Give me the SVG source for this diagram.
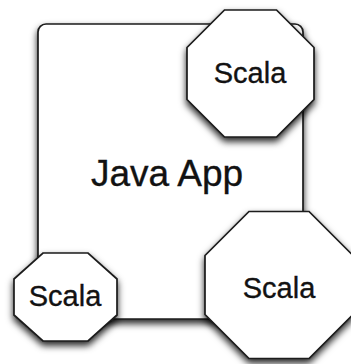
<svg xmlns="http://www.w3.org/2000/svg" width="351" height="364" viewBox="0 0 351 364">
  <defs>
    <filter id="shadow" x="-20%" y="-20%" width="140%" height="150%">
      <feDropShadow dx="0" dy="4" stdDeviation="3.5" flood-color="#000" flood-opacity="0.85"/>
    </filter>
  </defs>
  <style>
    .shape { fill: #fff; stroke: #1a1a1a; stroke-width: 1.7; filter: url(#shadow); }
    .label { font-family: "Liberation Sans", Arial, Helvetica, sans-serif; fill: #121212; stroke: #121212; stroke-width: 0.35; text-anchor: middle; }
    .small { font-size: 29px; }
    .big { font-size: 37px; }
  </style>
  <rect width="351" height="364" fill="#fff"/>

  <!-- host application container -->
  <g id="java-app">
    <rect class="shape" x="38" y="24" width="265" height="295" rx="8" ry="8"/>
    <text class="label big" x="167" y="186">Java App</text>
  </g>

  <!-- embedded Scala components -->
  <g id="scala-top">
    <polygon class="shape" points="224.5,10 276.5,10 314,47.5 314,99.5 276.5,137 224.5,137 187,99.5 187,47.5"/>
    <text class="label small" x="250" y="83">Scala</text>
  </g>

  <g id="scala-bottom-right">
    <polygon class="shape" points="249,211.5 309,211.5 353,255.5 353,314.5 309,358.5 249,358.5 205,314.5 205,255.5"/>
    <text class="label small" x="279" y="298">Scala</text>
  </g>

  <g id="scala-bottom-left">
    <polygon class="shape" points="43,253 88,253 117,279 117,315 88,341 43,341 14,315 14,279"/>
    <text class="label small" x="65" y="306">Scala</text>
  </g>
</svg>
